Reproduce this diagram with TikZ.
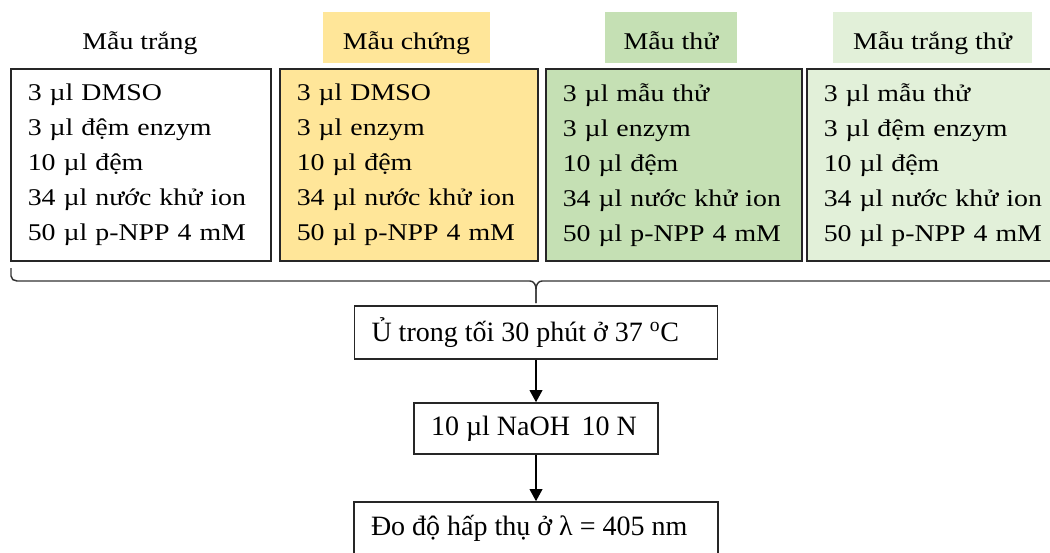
\documentclass[tikz,border=0pt]{standalone}
\usepackage{fontspec}
\setmainfont{Liberation Serif}
\newfontfamily\widefont{Liberation Serif}[FakeStretch=1.16]
\usetikzlibrary{arrows.meta}

\definecolor{vang}{HTML}{FFE699}
\definecolor{xanh}{HTML}{C5E0B4}
\definecolor{xanhnhat}{HTML}{E2F0D9}

\begin{document}
\begin{tikzpicture}[
        x=0.75pt, y=-0.75pt,
        sample/.style  ={draw=black!85, line width=1.2pt, anchor=north west, align=left,
                         inner xsep=12.75pt, minimum height=144pt,
                         font=\widefont\fontsize{18}{26.25}\selectfont},
        head/.style    ={inner sep=0pt, minimum height=38.25pt,
                         text height=20pt, text depth=2.75pt,
                         font=\widefont\fontsize{18}{22}\selectfont},
        flowbox/.style ={draw=black!85, line width=1.2pt,
                         inner xsep=12.75pt, minimum height=39.75pt,
                         font=\fontsize{21}{25}\selectfont},
        arr/.style     ={-{Triangle[width=9.5pt,length=9pt]}, line width=1.1pt},
        brace/.style   ={draw=black!80, line width=1.1pt}
    ]
    \useasboundingbox (0,0) rectangle (1050,553);
    \clip (0,0) rectangle (1050,553);

    %-----------------  Tieu de cac mau  --------------------
    \node[head] (h1) at (140,37.5) {Mẫu trắng};
    \node[head, fill=vang, minimum width=125.25pt] (h2) at (406.5,37.5) {Mẫu chứng};
    \node[head, fill=xanh, minimum width=99pt] (h3) at (671,37.5) {Mẫu thử};
    \node[head, fill=xanhnhat, minimum width=149.25pt] (h4) at (932.5,37.5) {Mẫu trắng thử};

    %-----------------  Thanh phan moi mau  -----------------
    \node[sample, text width=169.5pt] (b1) at (10,68)
        {3 µl DMSO\\3 µl đệm enzym\\10 µl đệm\\34 µl nước khử ion\\50 µl p-NPP 4 mM};
    \node[sample, text width=168pt, fill=vang] (b2) at (279,68)
        {3 µl DMSO\\3 µl enzym\\10 µl đệm\\34 µl nước khử ion\\50 µl p-NPP 4 mM};
    \node[sample, text width=166.5pt, fill=xanh] (b3) at (545,68)
        {3 µl mẫu thử\\3 µl enzym\\10 µl đệm\\34 µl nước khử ion\\50 µl p-NPP 4 mM};
    \node[sample, text width=169.5pt, fill=xanhnhat] (b4) at (806,68)
        {3 µl mẫu thử\\3 µl đệm enzym\\10 µl đệm\\34 µl nước khử ion\\50 µl p-NPP 4 mM};

    %-----------------  Ngoac gop  ---------------------------
    \coordinate (brL) at (11,268);
    \coordinate (tip) at (536,303);
    \draw[brace] (brL) -- (11,276) to[out=-90,in=180] (17,281) -- (530,281)
        to[out=0,in=90] (536,289) -- (tip);
    \draw[brace] (tip) -- (536,289) to[out=90,in=180] (542,281) -- (1070,281);

    %-----------------  Cac buoc xu ly  ---------------------
    \node[flowbox] (u) at (536,332.5)
        {\makebox[246.75pt][l]{Ủ trong tối 30 phút ở 37 \textsuperscript{o}C}};
    \node[flowbox, minimum height=38.25pt] (naoh) at (536,428.5)
        {\makebox[157.5pt][l]{10 µl NaOH\, 10 N}};
    \node[flowbox] (do) at (536,528.5)
        {\makebox[247.5pt][l]{Đo độ hấp thụ ở λ = 405 nm}};

    \draw[arr] (u) -- (naoh);
    \draw[arr] (naoh) -- (do);
\end{tikzpicture}
\end{document}
